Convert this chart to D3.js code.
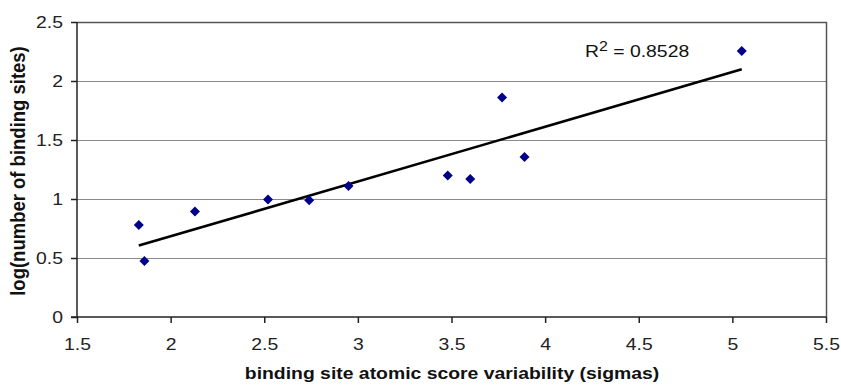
<!DOCTYPE html>
<html>
<head>
<meta charset="utf-8">
<script src="https://cdn.jsdelivr.net/npm/d3@7/dist/d3.min.js"></script>
<style>
html,body{margin:0;padding:0;background:#fff;}
svg{display:block;font-family:"Liberation Sans",Arial,sans-serif;}
</style>
</head>
<body>
<svg id="chart" width="841" height="388"></svg>
<script>
const xValues = [1.83, 1.86, 2.13, 2.52, 2.74, 2.95, 3.48, 3.60, 3.77, 3.89, 5.05];
const yValues = [0.78, 0.475, 0.895, 0.995, 0.99, 1.11, 1.20, 1.17, 1.86, 1.355, 2.255];
const trendX = [1.83, 5.05];
const trendY = [0.605, 2.10];
const xTicks = [1.5, 2, 2.5, 3, 3.5, 4, 4.5, 5, 5.5];
const yTicks = [0, 0.5, 1, 1.5, 2, 2.5];
const xTitle = "binding site atomic score variability (sigmas)";
const yTitle = "log(number of binding sites)";
const r2Label = "0.8528";

const SX = 1.14;   // horizontal stretch of the text, as in the reference
const FS = 17;

const svg = d3.select("#chart");
const m = {left: 77, top: 22, right: 826, bottom: 317};
const x = d3.scaleLinear().domain([1.5, 5.5]).range([m.left, m.right]);
const y = d3.scaleLinear().domain([0, 2.5]).range([m.bottom, m.top]);

// grid lines
svg.append("g").selectAll("line").data(yTicks.filter(d => d > 0)).join("line")
  .attr("x1", m.left).attr("x2", m.right)
  .attr("y1", d => Math.round(y(d)) + 0.5).attr("y2", d => Math.round(y(d)) + 0.5)
  .attr("stroke", "#8a8a8a").attr("stroke-width", 1.2);

// plot border (right / top)
svg.append("path")
  .attr("d", `M${m.left},${m.top + 0.5}H${m.right + 0.5}V${m.bottom}`)
  .attr("fill", "none").attr("stroke", "#555").attr("stroke-width", 1.5);

// axes
const xAxis = d3.axisBottom(x).tickValues(xTicks).tickSize(6).tickPadding(15).tickFormat(d3.format(""));
const yAxis = d3.axisLeft(y).tickValues(yTicks).tickSize(6).tickPadding(8).tickFormat(d3.format(""));
const gx = svg.append("g").attr("transform", `translate(0,${m.bottom})`).call(xAxis);
const gy = svg.append("g").attr("transform", `translate(${m.left},0)`).call(yAxis);
[gx, gy].forEach(g => {
  g.select(".domain").attr("stroke", "#222").attr("stroke-width", 1.5);
  g.selectAll(".tick line").attr("stroke", "#222").attr("stroke-width", 1.5);
  g.selectAll("text").attr("font-size", FS).attr("fill", "#222")
    .attr("font-family", "Liberation Sans, Arial, sans-serif")
    .each(function() {
      const s = d3.select(this);
      const tx = +s.attr("x") || 0, ty = +s.attr("y") || 0;
      s.attr("x", 0).attr("y", 0).attr("transform", `translate(${tx},${ty}) scale(${SX},1)`);
    });
});
gy.select(".domain").attr("d", `M0,${m.bottom}V${m.top}`);
gx.select(".domain").attr("d", `M${m.left - 6},0H${m.right}`);

// trend line
svg.append("line")
  .attr("x1", x(trendX[0])).attr("y1", y(trendY[0]))
  .attr("x2", x(trendX[1])).attr("y2", y(trendY[1]))
  .attr("stroke", "#000").attr("stroke-width", 2.6);

// points
const pts = xValues.map((v, i) => [v, yValues[i]]);
svg.append("g").selectAll("path").data(pts).join("path")
  .attr("transform", d => `translate(${x(d[0])},${y(d[1])})`)
  .attr("d", "M0,-5L5,0L0,5L-5,0Z")
  .attr("fill", "#00008b");

// R^2 label
const t = svg.append("text").attr("transform", `translate(585,57) scale(${SX},1)`)
  .attr("font-size", FS).attr("fill", "#111");
t.append("tspan").text("R");
t.append("tspan").attr("dy", -6).attr("font-size", 14).text("2");
t.append("tspan").attr("dy", 6).text(" = " + r2Label);

// axis titles
svg.append("text").attr("transform", `translate(452,379) scale(${SX},1)`)
  .attr("text-anchor", "middle").attr("font-weight", "bold").attr("font-size", FS)
  .attr("fill", "#111").text(xTitle);
svg.append("text")
  .attr("transform", `translate(25,171) scale(1.05,1) rotate(-90)`)
  .attr("text-anchor", "middle").attr("font-weight", "bold").attr("font-size", 18.5)
  .attr("fill", "#111").text(yTitle);
</script>
</body>
</html>
